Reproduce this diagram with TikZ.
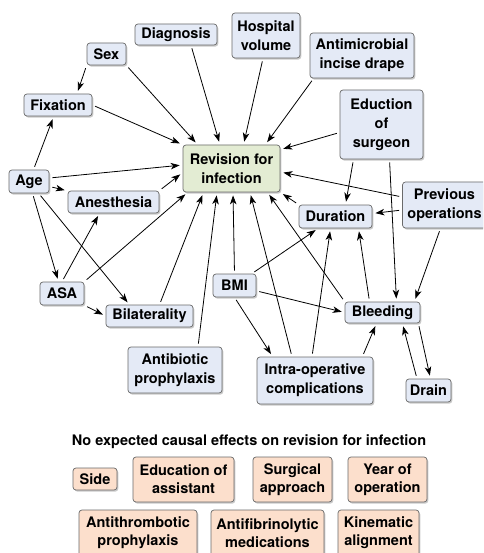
\documentclass[tikz,border=0pt]{standalone}
\usepackage{fontspec}
\setmainfont{TeX Gyre Heros}
\usetikzlibrary{arrows.meta,shadows}
\definecolor{bluefill}{HTML}{E4EAF6}
\definecolor{greenfill}{HTML}{E3ECD3}
\definecolor{peachfill}{HTML}{FCDFCC}
\definecolor{boxline}{HTML}{6A6A6A}
\begin{document}
\begin{tikzpicture}[x=1pt,y=-1pt,
  base/.style={draw=boxline, line width=0.7pt, rounded corners=3pt, inner sep=0pt, align=center,
    font=\bfseries\fontsize{14.5}{19}\selectfont,
    drop shadow={shadow xshift=1.3pt, shadow yshift=-1.6pt, fill=black!60, opacity=0.35}},
  box/.style={base, fill=bluefill},
  mainbox/.style={base, fill=greenfill},
  nobox/.style={base, fill=peachfill, font=\bfseries\fontsize{14.5}{18}\selectfont},
  sz/.style 2 args={minimum width=#1pt, minimum height=#2pt},
  arr/.style={-{Stealth[length=9pt,width=6.5pt,inset=2.5pt]}, line width=0.8pt, shorten <=3pt, shorten >=3pt},
  titletext/.style={font=\bfseries\fontsize{14.5}{18}\selectfont, inner sep=0pt}
]
\useasboundingbox (0,0) rectangle (483,553);
\clip (0,0) rectangle (483,553);
\fill[white] (0,0) rectangle (483,553);

% nodes
\node[box, sz={39}{22}] (sex) at (106.5,54) {Sex};
\node[box, sz={82}{21}] (diag) at (176,34.5) {Diagnosis};
\node[box, sz={68}{45}] (hosp) at (266,35.5) {Hospital\\volume};
\node[box, sz={104}{45}] (drape) at (362,55.5) {Antimicrobial\\incise drape};
\node[box, sz={83}{69}] (surg) at (381.5,124.5) {Eduction\\of\\surgeon};
\node[box, sz={68}{22}] (fix) at (58,105) {Fixation};
\node[mainbox, sz={97}{47}] (rev) at (231.5,168.5) {Revision for\\infection};
\node[box, sz={40}{23}] (age) at (29,181.5) {Age};
\node[box, sz={91}{22}] (anes) at (113.5,202) {Anesthesia};
\node[box, sz={84}{46}] (prev) at (444.5,205) {Previous\\operations};
\node[box, sz={73}{23}] (dur) at (335.5,216.5) {Duration};
\node[box, sz={44}{23}] (asa) at (62,293.5) {ASA};
\node[box, sz={87}{22}] (bilat) at (149.5,316) {Bilaterality};
\node[box, sz={43}{23}] (bmi) at (234.5,285.5) {BMI};
\node[box, sz={75}{21}] (bleed) at (382.5,312.5) {Bleeding};
\node[box, sz={94}{46}] (anti) at (175,370) {Antibiotic\\prophylaxis};
\node[box, sz={116}{47}] (intra) at (315,380.5) {Intra-operative\\complications};
\node[box, sz={45}{23}] (drain) at (428.5,390.5) {Drain};

\node[titletext] (title) at (249,442) {No expected causal effects on revision for infection};
\node[nobox, sz={44}{22}] (side) at (95,479) {Side};
\node[nobox, sz={101}{45}] (eduas) at (183.5,479.5) {Education of\\assistant};
\node[nobox, sz={79}{45}] (surgap) at (292.5,479.5) {Surgical\\approach};
\node[nobox, sz={79}{45}] (year) at (387.5,479.5) {Year of\\operation};
\node[nobox, sz={118}{46}] (antithr) at (138,533) {Antithrombotic\\prophylaxis};
\node[nobox, sz={113}{46}] (antifib) at (267.5,533) {Antifibrinolytic\\medications};
\node[nobox, sz={81}{46}] (kin) at (378.5,533) {Kinematic\\alignment};

% connectors
\draw[arr] (sex.south west) -- ([xshift=19pt]fix.north);
\draw[arr] (sex.south east) -- ([xshift=15pt]rev.north west);
\draw[arr] ([xshift=15pt]diag.south) -- ([xshift=-11.5pt]rev.north);
\draw[arr] ([xshift=-3pt]hosp.south) -- ([xshift=12pt]rev.north);
\draw[arr] ([xshift=4pt]drape.south west) -- ([xshift=-15pt]rev.north east);
\draw[arr] ([yshift=-8pt]surg.west) -- ([yshift=-5pt]rev.north east);
\draw[arr] ([xshift=-28pt]surg.south) -- ([xshift=10pt]dur.north);
\draw[arr] ([xshift=8pt]surg.south) -- ([xshift=14pt]bleed.north);
\draw[arr] (fix.east) -- (rev.north west);
\draw[arr] (age) -- (fix);
\draw[arr] ([yshift=3.5pt]age.east) -- ([yshift=3.5pt]rev.west);
\draw[arr] (age) -- (anes);
\draw[arr] (age) -- (asa);
\draw[arr] (age) -- ([xshift=-20pt]bilat.north);
\draw[arr] (anes.north east) -- ([yshift=-4pt]rev.west);
\draw[arr] (asa.north) -- ([xshift=-14pt]anes.south);
\draw[arr] (asa.north east) -- ([xshift=5pt]rev.south west);
\draw[arr] (asa.south east) -- (bilat.west);
\draw[arr] ([xshift=10pt]bilat.north) -- ([xshift=-28pt]rev.south);
\draw[arr] ([xshift=23pt]anti.north) -- ([xshift=-14.5pt]rev.south);
\draw[arr] (bmi.north) -- ([xshift=1.5pt]rev.south);
\draw[arr] (bmi) -- (dur);
\draw[arr] (bmi) -- (bleed.west);
\draw[arr] (bmi.south) -- ([xshift=16pt]intra.north west);
\draw[arr] ([xshift=-23pt]intra.north) -- ([xshift=18.5pt]rev.south);
\draw[arr] ([xshift=-3pt]intra.north) -- ([xshift=-5pt]dur.south);
\draw[arr] ([xshift=-11pt]intra.north east) -- ([xshift=-6pt]bleed.south);
\draw[arr] (bleed.north west) -- ([xshift=36pt]rev.south);
\draw[arr] ([xshift=-13pt]bleed.north) -- ([xshift=23pt]dur.south);
\draw[arr] ([xshift=-2pt]bleed.south east) -- ([xshift=2pt]drain.north);
\draw[arr] ([xshift=-11.5pt]drain.north) -- ([xshift=-18pt]bleed.south east);
\draw[arr] (dur.north west) -- (rev.south east);
\draw[arr] ([yshift=8pt]prev.west) -- ([yshift=-3.5pt]rev.east);
\draw[arr] ([yshift=-5pt]prev.west) -- ([yshift=3pt]dur.east);
\draw[arr] ([xshift=-4pt]prev.south) -- ([xshift=-6pt]bleed.north east);
\end{tikzpicture}
\end{document}
